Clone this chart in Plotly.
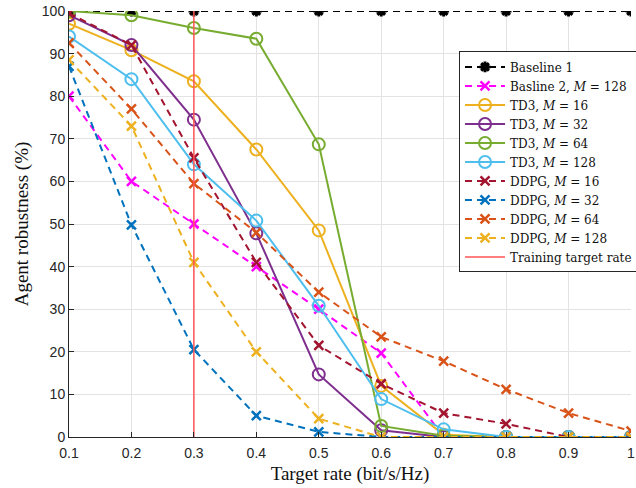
import plotly.graph_objects as go

rates = [0.1, 0.2, 0.3, 0.4, 0.5, 0.6, 0.7, 0.8, 0.9, 1.0]
tick_labels = ["0.1", "0.2", "0.3", "0.4", "0.5", "0.6", "0.7", "0.8", "0.9", "1"]
y_ticks = [0, 10, 20, 30, 40, 50, 60, 70, 80, 90, 100]

baseline1 = [100, 100, 100, 100, 100, 100, 100, 100, 100, 100]
baseline2_128 = [80, 60, 50, 40, 30, 19.7, 0, 0, 0, 0]
td3_16 = [97, 90.8, 83.5, 67.5, 48.5, 12, 0.5, 0, 0, 0]
td3_32 = [99, 92, 74.5, 47.8, 14.7, 1.6, 0, 0, 0, 0]
td3_64 = [100, 99, 96, 93.5, 68.7, 2.6, 0.3, 0, 0, 0]
td3_128 = [94, 84, 64, 50.8, 30.8, 8.9, 1.8, 0, 0, 0]
ddpg_16 = [99.5, 92, 65.5, 41, 21.5, 12.5, 5.6, 3.1, 0, 0]
ddpg_32 = [87, 49.8, 20.5, 5, 1.2, 0, 0, 0, 0, 0]
ddpg_64 = [92.5, 77, 59.5, 48, 34, 23.5, 17.8, 11.2, 5.6, 1.4]
ddpg_128 = [88.5, 73, 41, 20, 4.3, 0, 0, 0, 0, 0]
training_rate = [0.3, 0.3]
training_span = [0, 100]

DASH = "7px,5px"
fig = go.Figure()

def add(name, y, color, dash, symbol, msize, mlw):
    fig.add_trace(go.Scatter(
        x=rates, y=y, name=name, mode="lines+markers",
        line=dict(color=color, width=2, dash=dash),
        marker=dict(symbol=symbol, size=msize, color=color,
                    line=dict(color=color, width=mlw)),
    ))

add("Baseline 1", baseline1, "black", DASH, "asterisk-open", 9, 3)
add("Basline 2, <i>M</i> = 128", baseline2_128, "#FF00FF", DASH, "x-thin-open", 9, 2.5)
add("TD3, <i>M</i> = 16", td3_16, "#EDB120", "solid", "circle-open", 12, 2)
add("TD3, <i>M</i> = 32", td3_32, "#7E2F8E", "solid", "circle-open", 12, 2)
add("TD3, <i>M</i> = 64", td3_64, "#77AC30", "solid", "circle-open", 12, 2)
add("TD3, <i>M</i> = 128", td3_128, "#4DBEEE", "solid", "circle-open", 12, 2)
add("DDPG, <i>M</i> = 16", ddpg_16, "#A2142F", DASH, "x-thin-open", 9, 2.5)
add("DDPG, <i>M</i> = 32", ddpg_32, "#0072BD", DASH, "x-thin-open", 9, 2.5)
add("DDPG, <i>M</i> = 64", ddpg_64, "#D95319", DASH, "x-thin-open", 9, 2.5)
add("DDPG, <i>M</i> = 128", ddpg_128, "#EDB120", DASH, "x-thin-open", 9, 2.5)
fig.add_trace(go.Scatter(
    x=training_rate, y=training_span, name="Training target rate", mode="lines",
    line=dict(color="#FF5555", width=1.5),
))

fig.update_layout(
    width=636, height=488,
    margin=dict(l=69, r=5, t=11, b=51, autoexpand=False),
    paper_bgcolor="white", plot_bgcolor="white",
    font=dict(family="Liberation Sans, Arial", size=14, color="#262626"),
    showlegend=True,
    legend=dict(
        x=0.694, y=0.905, xanchor="left", yanchor="top",
        bgcolor="white", bordercolor="#262626", borderwidth=1,
        font=dict(family="DejaVu Serif, serif", size=12, color="#111111"),
        tracegroupgap=0, itemwidth=40,
    ),
)
fig.update_xaxes(
    range=[0.1, 1.0], tickvals=rates, ticktext=tick_labels,
    showgrid=True, gridcolor="#E3E3E3", gridwidth=1,
    showline=True, linecolor="#262626", linewidth=1,
    ticks="inside", ticklen=5, tickcolor="#262626", ticklabelstandoff=3,
    zeroline=False,
    title=dict(text="Target rate (bit/s/Hz)", standoff=6,
               font=dict(family="Liberation Serif, Times New Roman, serif", size=19, color="#111111")),
)
fig.update_yaxes(
    range=[0, 100], tickvals=y_ticks,
    showgrid=True, gridcolor="#E3E3E3", gridwidth=1,
    showline=True, linecolor="#262626", linewidth=1,
    ticks="inside", ticklen=5, tickcolor="#262626",
    zeroline=False,
    title=dict(text="Agent robustness (%)", standoff=8,
               font=dict(family="Liberation Serif, Times New Roman, serif", size=19, color="#111111")),
)

fig.write_html("out.html", config={"displayModeBar": False},
               post_script="document.body.style.margin='0';document.body.style.overflow='hidden';")
